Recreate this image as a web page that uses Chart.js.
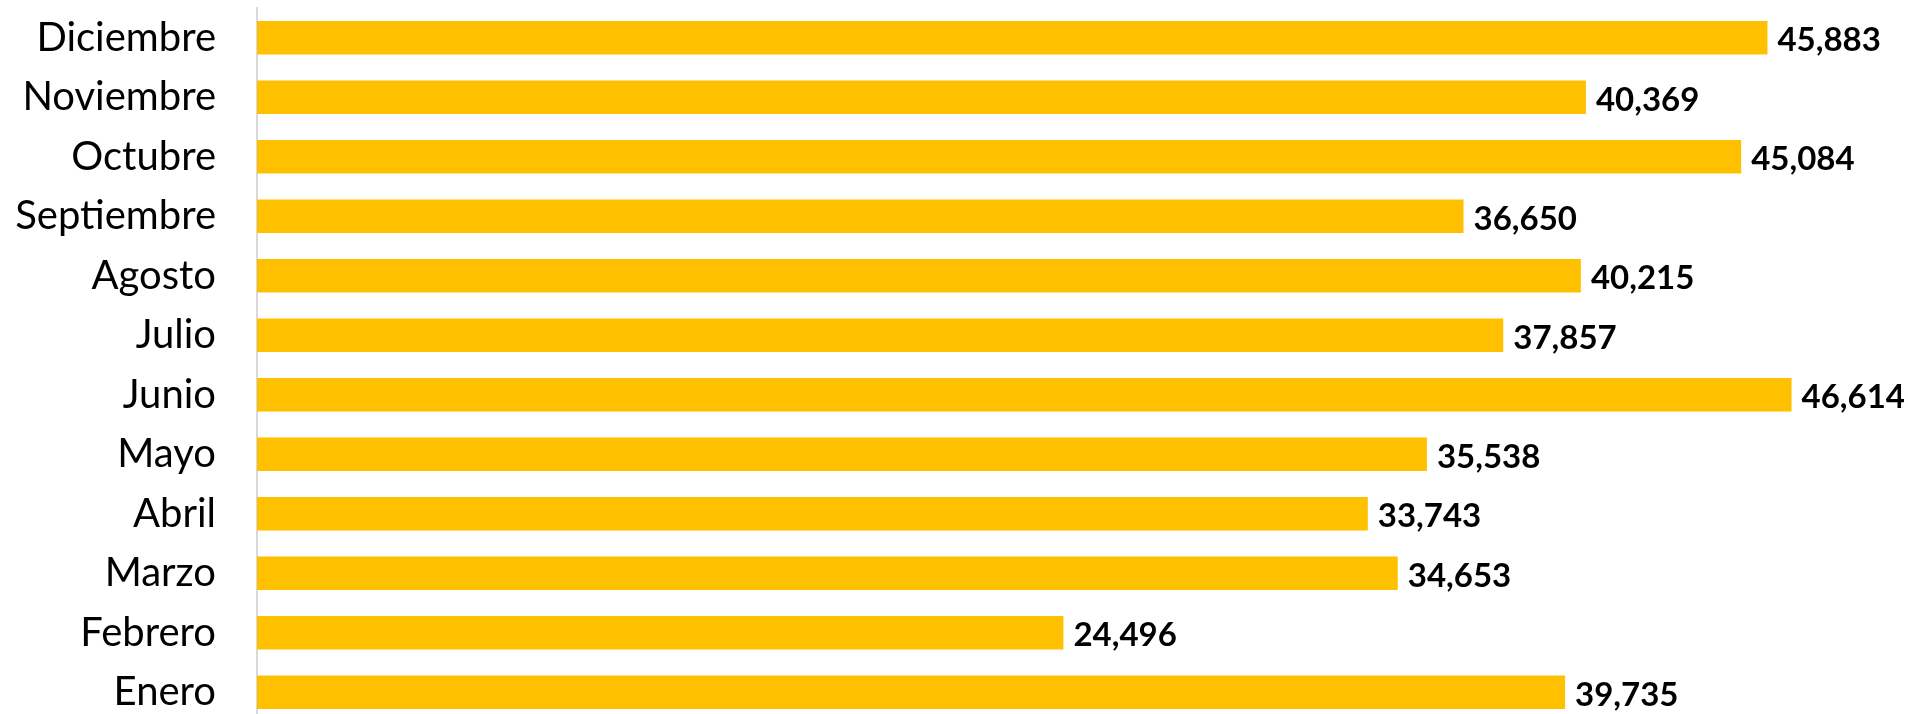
<!DOCTYPE html>
<html>
<head>
<meta charset="utf-8">
<script src="https://cdn.jsdelivr.net/npm/chart.js@4/dist/chart.umd.min.js"></script>
<style>
  html, body { margin: 0; padding: 0; background: #fff; overflow: hidden; }
  #wrap { position: relative; width: 1908px; height: 722px; }
</style>
</head>
<body>
<div id="wrap"><canvas id="barChart" width="1908" height="722"></canvas></div>
<script>
// Meses (de abajo hacia arriba en el gráfico)
const meses = ['Enero', 'Febrero', 'Marzo', 'Abril', 'Mayo', 'Junio', 'Julio',
               'Agosto', 'Septiembre', 'Octubre', 'Noviembre', 'Diciembre'];
// Valores por mes
const valores = [39735, 24496, 34653, 33743, 35538, 46614, 37857,
                 40215, 36650, 45084, 40369, 45883];
const ejeMax = 50000;

// Etiquetas de datos al final de cada barra
const etiquetasPlugin = {
    id: 'etiquetas',
    afterDatasetsDraw(chart) {
        const ctx = chart.ctx;
        const meta = chart.getDatasetMeta(0);
        ctx.save();
        ctx.font = 'bold 33px Lato';
        ctx.fillStyle = '#000';
        ctx.textAlign = 'left';
        ctx.textBaseline = 'middle';
        meta.data.forEach((bar, i) => {
            ctx.fillText(valores[i].toLocaleString('en-US'), bar.x + 10, bar.y + 3);
        });
        ctx.restore();
    }
};

const ctx = document.getElementById('barChart').getContext('2d');
new Chart(ctx, {
    type: 'bar',
    data: {
        labels: meses,
        datasets: [{
            data: valores,
            backgroundColor: '#FFC000',
            borderWidth: 0,
            barPercentage: 0.565,
            categoryPercentage: 1
        }]
    },
    options: {
        indexAxis: 'y',
        responsive: false,
        animation: false,
        layout: { padding: { top: 8, right: 5, bottom: 0, left: 0 } },
        plugins: { legend: { display: false }, tooltip: { enabled: false } },
        scales: {
            x: { display: false, min: 0, max: ejeMax },
            y: {
                reverse: true,
                grid: { display: false, drawTicks: false },
                border: { display: true, color: '#d9d9d9', width: 2 },
                ticks: {
                    color: '#000',
                    padding: 41,
                    font: { family: 'Lato', size: 40 }
                },
                afterFit(scale) {
                    scale.width = 257;
                    scale.paddingTop = 0;
                    scale.paddingBottom = 0;
                }
            }
        }
    },
    plugins: [etiquetasPlugin]
});
</script>
</body>
</html>
